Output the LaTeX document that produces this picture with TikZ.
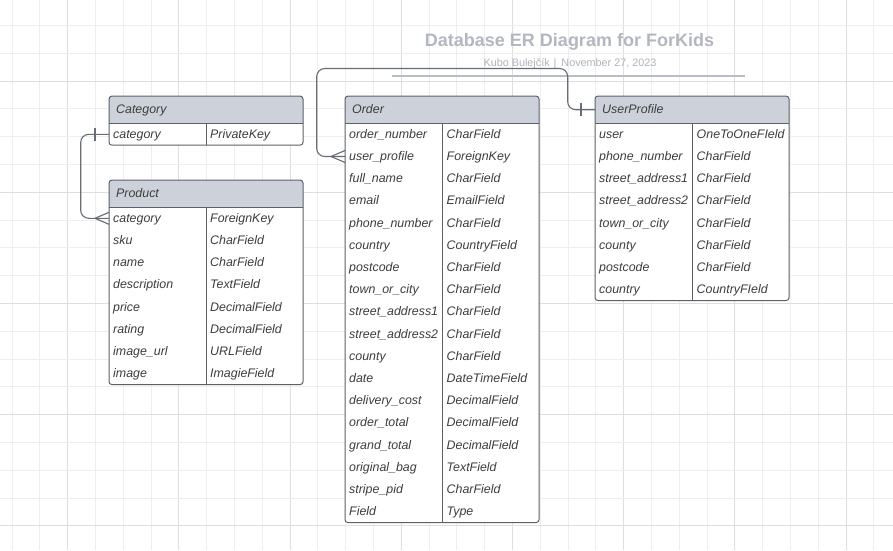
\documentclass[tikz,border=0pt]{standalone}
\usepackage{fontspec}
\setmainfont{Liberation Sans}
\usetikzlibrary{calc}
\definecolor{gridminor}{HTML}{EEEEEE}
\definecolor{gridmajor}{HTML}{DEDEDE}
\definecolor{hdrfill}{HTML}{CDD2DA}
\definecolor{tblborder}{HTML}{5C6168}
\definecolor{txt}{HTML}{3D3D3D}
\definecolor{titlecol}{HTML}{B3B7BF}
\definecolor{subcol}{HTML}{AEB2B9}
\definecolor{rulecol}{HTML}{B9BDC6}
\definecolor{conncol}{HTML}{676D75}
\tikzset{
  tblline/.style={draw=tblborder, line width=1pt},
  conn/.style={draw=conncol, line width=1.1pt},
  hdrtext/.style={anchor=north west, inner xsep=7pt, inner ysep=0pt, minimum height=27pt,
    text height=10pt, text depth=2pt, text=txt, font=\itshape\fontsize{12.4}{14}\selectfont},
  celltext/.style={anchor=north west, inner xsep=4pt, inner ysep=0pt, minimum height=22.2pt,
    text height=10pt, text depth=2pt, text=txt, font=\itshape\fontsize{12.4}{14}\selectfont},
}
\newcommand\ertable[7]{%
  \pgfmathsetmacro\ybot{#3+27+#4*22.2}%
  \pgfmathsetmacro\yh{#3+27}%
  \pgfmathsetmacro\xr{#2+194}%
  \pgfmathsetmacro\xd{#2+#6}%
  \fill[hdrfill,rounded corners=3pt] (#2,#3) rectangle (\xr,\yh+4);
  \fill[white,rounded corners=3pt] (#2,\yh) rectangle (\xr,\ybot);
  \fill[white] (#2,\yh) rectangle (\xr,\yh+5);
  \draw[tblline] (\xd,\yh) -- (\xd,\ybot);
  \draw[tblline] (#2,\yh) -- (\xr,\yh);
  \draw[tblline,rounded corners=3pt] (#2,#3) rectangle (\xr,\ybot);
  \node[hdrtext] (#1-head) at (#2,#3) {#5};
  \foreach \f/\t [count=\i] in {#7} {
    \pgfmathsetmacro\ry{\yh+(\i-1)*22.2}
    \node[celltext] (#1-r\i) at (#2,\ry) {\f};
    \node[celltext] (#1-t\i) at (\xd,\ry) {\t};
  }
}
\begin{document}
\begin{tikzpicture}[x=1pt,y=-1pt]
\useasboundingbox (0,0) rectangle (893,550);
\fill[white] (0,0) rectangle (893,550);
% grid
\foreach \k in {0,...,31} {
  \pgfmathsetmacro\gx{12.1+27.8*\k}
  \pgfmathtruncatemacro\m{mod(\k+2,4)}
  \ifnum\m=0 \draw[gridmajor,line width=1pt] (\gx,0) -- (\gx,550);
  \else \draw[gridminor,line width=1pt] (\gx,0) -- (\gx,550); \fi
}
\foreach \j in {0,...,18} {
  \pgfmathsetmacro\gy{25.4+27.8*\j}
  \pgfmathtruncatemacro\m{mod(\j+2,4)}
  \ifnum\m=0 \draw[gridmajor,line width=1pt] (0,\gy) -- (893,\gy);
  \else \draw[gridminor,line width=1pt] (0,\gy) -- (893,\gy); \fi
}
% title
\node[anchor=base, text=titlecol, font=\bfseries\fontsize{18}{20}\selectfont, inner sep=0pt] (title) at (569.5,46.7) {Database ER Diagram for ForKids};
\node[anchor=base, text=subcol, font=\fontsize{10.8}{12}\selectfont, inner sep=0pt] (subtitle) at (570,66) {Kubo Bulejčík\hspace{4pt}|\hspace{5pt}November 27, 2023};
\draw[rulecol, line width=2pt] (392,75.7) -- (745,75.7);
% tables
\ertable{cat}{109}{96}{1}{Category}{97}{category/PrivateKey}
\ertable{prod}{109}{180}{8}{Product}{97}{category/ForeignKey, sku/CharField, name/CharField, description/TextField, price/DecimalField, rating/DecimalField, image\_url/URLField, image/ImagieField}
\ertable{ord}{345}{96}{18}{Order}{97.5}{order\_number/CharField, user\_profile/ForeignKey, full\_name/CharField, email/EmailField, phone\_number/CharField, country/CountryField, postcode/CharField, town\_or\_city/CharField, street\_address1/CharField, street\_address2/CharField, county/CharField, date/DateTimeField, delivery\_cost/DecimalField, order\_total/DecimalField, grand\_total/DecimalField, original\_bag/TextField, stripe\_pid/CharField, Field/Type}
\ertable{up}{595}{96}{8}{UserProfile}{97.5}{user/OneToOneFIeld, phone\_number/CharField, street\_address1/CharField, street\_address2/CharField, town\_or\_city/CharField, county/CharField, postcode/CharField, country/CountryFIeld}
% connector Category -> Product
\draw[conn, rounded corners=8pt] (cat-r1.west) -- ++(-28.3,0) |- (prod-r1.west);
\draw[conn] ($(cat-r1.west)+(-14,-6.5)$) -- ++(0,13);
\draw[conn] ($(prod-r1.west)+(-14,0)$) -- ($(prod-r1.west)+(0,-6)$);
\draw[conn] ($(prod-r1.west)+(-14,0)$) -- ($(prod-r1.west)+(0,6)$);
% connector Order -> UserProfile
\draw[conn, rounded corners=8pt] (ord-r2.west) -- ++(-28.3,0) |- ($(up-head.west)+(-27.3,-41.2)$) |- (up-head.west);
\draw[conn] ($(up-head.west)+(-14,-6.5)$) -- ++(0,13);
\draw[conn] ($(ord-r2.west)+(-14,0)$) -- ($(ord-r2.west)+(0,-6)$);
\draw[conn] ($(ord-r2.west)+(-14,0)$) -- ($(ord-r2.west)+(0,6)$);
\end{tikzpicture}
\end{document}
